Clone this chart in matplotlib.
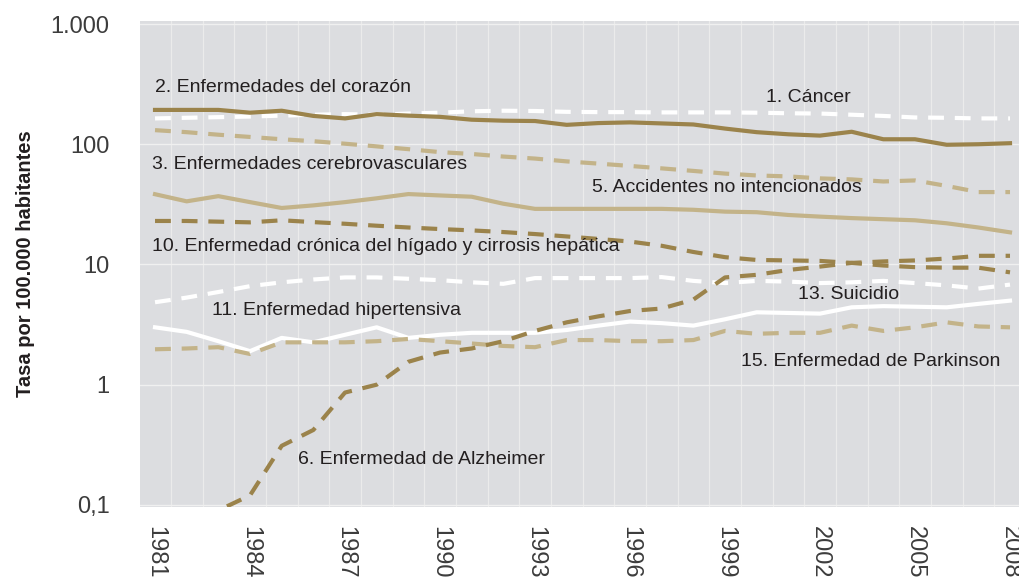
import matplotlib
matplotlib.use("Agg")
import matplotlib.pyplot as plt
from matplotlib.ticker import FixedLocator, FixedFormatter, NullLocator

years = list(range(1981, 2009))

# tasas por 100.000 habitantes
cancer = [164, 166, 168, 170, 173, 176, 178, 176, 180, 183, 188, 190, 189, 186,
          185, 185, 184, 184, 184, 183, 181, 180, 176, 172, 167, 166, 164, 164]
corazon = [193, 193, 193, 183, 190, 172, 164, 178, 173, 169, 160, 157, 156, 145,
           150, 152, 149, 146, 135, 126, 121, 118, 127, 110, 110, 99, 100, 102]
cerebro = [131, 126, 120, 115, 110, 106, 101, 96, 91, 86, 83, 79, 76, 72,
           69, 66, 63, 60, 57, 55, 54, 52, 51, 49, 50, 45, 40, 40]
accidentes = [38.4, 33.5, 37, 33, 29.5, 31, 33, 35.5, 38.5, 37.5, 36.6, 32, 29, 29,
              29, 29, 29, 28.5, 27.5, 27.2, 25.8, 25, 24.3, 23.8, 23.3, 22, 20.3, 18.5]
higado = [23, 23, 22.7, 22.4, 23.3, 22.5, 21.8, 21, 20.3, 19.7, 19.2, 18.6, 17.9, 17.1,
          16.3, 15.5, 14.3, 12.7, 11.5, 10.9, 10.8, 10.7, 10.3, 9.8, 9.5, 9.4, 9.4, 8.6]
alzheimer = [0.05, 0.07, 0.09, 0.12, 0.31, 0.42, 0.86, 1.0, 1.55, 1.85, 2.0, 2.3, 2.8, 3.3,
             3.7, 4.1, 4.3, 5.1, 7.8, 8.2, 9.0, 9.6, 10.3, 10.6, 10.8, 11.2, 11.8, 11.8]
suicidio = [4.85, 5.3, 5.9, 6.6, 7.1, 7.5, 7.8, 7.8, 7.6, 7.4, 7.1, 6.9, 7.7, 7.7,
            7.7, 7.7, 7.85, 7.3, 7.0, 7.3, 7.2, 7.0, 7.1, 7.3, 7.0, 6.7, 6.3, 6.8]
hipertensiva = [3.0, 2.75, 2.3, 1.9, 2.45, 2.25, 2.6, 3.0, 2.45, 2.6, 2.7, 2.7, 2.7, 2.85,
                3.1, 3.35, 3.25, 3.1, 3.5, 4.0, 3.95, 3.9, 4.4, 4.5, 4.45, 4.4, 4.7, 5.0]
parkinson = [1.97, 2.0, 2.05, 1.8, 2.25, 2.25, 2.25, 2.3, 2.4, 2.3, 2.2, 2.1, 2.05, 2.35,
             2.35, 2.3, 2.3, 2.35, 2.8, 2.65, 2.7, 2.7, 3.1, 2.8, 3.0, 3.3, 3.05, 3.0]

tick_years = [1981, 1984, 1987, 1990, 1993, 1996, 1999, 2002, 2005, 2008]
y_ticks = [0.1, 1, 10, 100, 1000]
y_labels = ["0,1", "1", "10", "100", "1.000"]

DARK = "#9b834b"
LIGHT = "#c3b389"
WHITE = "#ffffff"
BG = "#dcdde0"
TXT = "#231f20"

plt.rcParams["font.family"] = ["Liberation Sans", "DejaVu Sans"]

fig = plt.figure(figsize=(10.19, 5.78), dpi=100)
ax = fig.add_axes([0.1374, 0.1228, 0.8626, 0.8409])
ax.set_facecolor(BG)
for s in ax.spines.values():
    s.set_visible(False)

dash = (3.8, 2.6)
lw = 3.0
# blancas abajo, luego claras, luego oscuras
ax.plot(years, cancer, color=WHITE, lw=lw, dashes=dash, dash_capstyle="butt")
ax.plot(years, suicidio, color=WHITE, lw=lw, dashes=dash, dash_capstyle="butt")
ax.plot(years, hipertensiva, color=WHITE, lw=lw)
ax.plot(years, cerebro, color=LIGHT, lw=lw, dashes=dash, dash_capstyle="butt")
ax.plot(years, accidentes, color=LIGHT, lw=lw)
ax.plot(years, parkinson, color=LIGHT, lw=lw, dashes=dash, dash_capstyle="butt")
ax.plot(years, corazon, color=DARK, lw=lw)
ax.plot(years, higado, color=DARK, lw=lw, dashes=dash, dash_capstyle="butt")
ax.plot(years, alzheimer, color=DARK, lw=lw, dashes=dash, dash_capstyle="butt")

ax.set_yscale("log")
ax.set_ylim(0.096, 1060)
ax.set_xlim(1980.526, 2008.284)

ax.yaxis.set_major_locator(FixedLocator(y_ticks))
ax.yaxis.set_major_formatter(FixedFormatter(y_labels))
ax.yaxis.set_minor_locator(NullLocator())
ax.xaxis.set_major_locator(FixedLocator(tick_years))
ax.xaxis.set_minor_locator(FixedLocator([y + 0.5 for y in years[:-1]]))
ax.tick_params(axis="both", which="both", length=0)
ax.tick_params(axis="y", labelsize=17, labelcolor="#3c3c3c", pad=22)
ax.tick_params(axis="x", labelsize=17, labelcolor="#3c3c3c", pad=14, labelrotation=270)
for lab in ax.get_xticklabels():
    lab.set_verticalalignment("top")
    lab.set_horizontalalignment("center")

ax.grid(True, axis="y", which="major", color="#f0f0f0", lw=1.0)
ax.grid(True, axis="x", which="minor", color="#ebebeb", lw=0.9)
ax.set_axisbelow(True)

ax.set_ylabel("Tasa por 100.000 habitantes", fontsize=14.5, fontweight="bold",
              color=TXT)
ax.yaxis.set_label_coords(-0.12, 0.5)

labels = [
    ("2. Enfermedades del corazón", 1981.0, 295),
    ("1. Cáncer", 2000.3, 245),
    ("3. Enfermedades cerebrovasculares", 1980.9, 68),
    ("5. Accidentes no intencionados", 1994.8, 44),
    ("10. Enfermedad crónica del hígado y cirrosis hepática", 1980.9, 14.2),
    ("11. Enfermedad hipertensiva", 1982.8, 4.15),
    ("13. Suicidio", 2001.3, 5.6),
    ("15. Enfermedad de Parkinson", 1999.5, 1.56),
    ("6. Enfermedad de Alzheimer", 1985.5, 0.24),
]
for txt, x, y in labels:
    ax.text(x, y, txt, fontsize=14, color=TXT, ha="left", va="center")

plt.savefig("out.png", dpi=100)
